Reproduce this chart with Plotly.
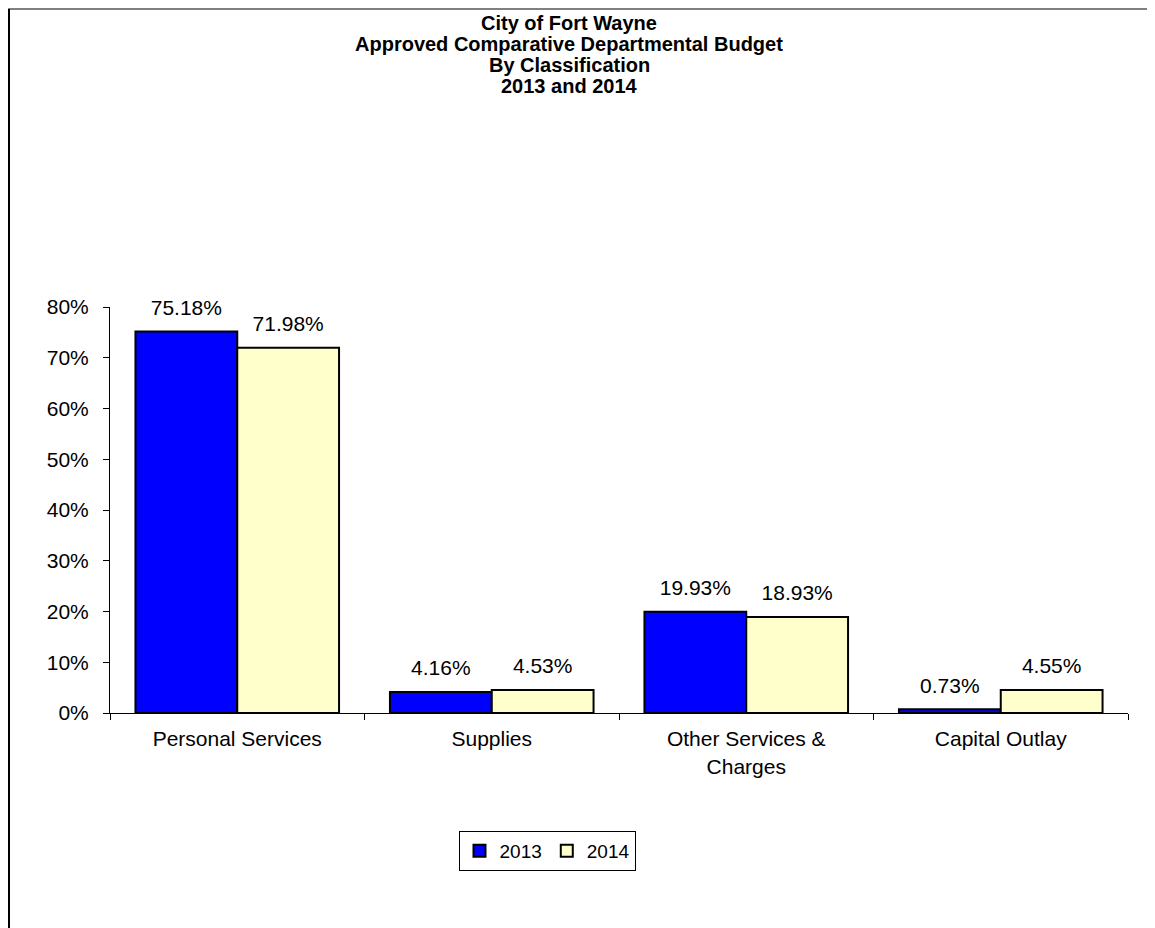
import plotly.graph_objects as go

categories = ["Personal Services", "Supplies", "Other Services &<br>Charges", "Capital Outlay"]
values_2013 = [0.7518, 0.0416, 0.1993, 0.0073]
values_2014 = [0.7198, 0.0453, 0.1893, 0.0455]
series_names = ["2013", "2014"]
tick_vals = [0, 0.1, 0.2, 0.3, 0.4, 0.5, 0.6, 0.7, 0.8]
title_lines = ["City of Fort Wayne", "Approved Comparative Departmental Budget",
               "By Classification", "2013 and 2014"]

FONT = "Arial, Liberation Sans, sans-serif"
W, H = 1155, 928
ML, MR, MT, MB = 102, 35, 299, 223
PW = W - ML - MR
PH = H - MT - MB
LABEL_GAP = 0.019  # extra space between bar end and its value label (style)


def px_x(px):
    return (px - ML) / PW


def px_y(py):
    return (H - MB - py) / PH


fig = go.Figure()
series = [(series_names[0], values_2013, "#0000FF", "g1"),
          (series_names[1], values_2014, "#FFFFCC", "g2")]
for name, vals, color, grp in series:
    fig.add_trace(go.Bar(
        x=categories, y=vals, name=name, offsetgroup=grp,
        marker=dict(color=color, line=dict(color="black", width=2)),
    ))
for name, vals, color, grp in series:
    fig.add_trace(go.Bar(
        x=categories, y=[LABEL_GAP] * len(vals), base=vals, offsetgroup=grp,
        text=[f"{v:.2%}" for v in vals], textposition="outside",
        textfont=dict(family=FONT, size=21, color="black"),
        marker=dict(color="rgba(0,0,0,0)", line=dict(width=0)),
        cliponaxis=False, constraintext="none", showlegend=False, hoverinfo="skip",
    ))

annotations = []
title_centers_px = [15, 36, 57, 78]
for line, cy in zip(title_lines, title_centers_px):
    annotations.append(dict(
        text=f"<b>{line}</b>", xref="paper", yref="paper",
        x=px_x(561), y=px_y(cy), xanchor="center", yanchor="middle",
        showarrow=False, font=dict(family=FONT, size=20, color="black"),
    ))

fig.update_layout(
    width=W, height=H,
    margin=dict(l=ML, r=MR, t=MT, b=MB, autoexpand=False),
    paper_bgcolor="white", plot_bgcolor="white",
    font=dict(family=FONT, size=21, color="black"),
    barmode="group", bargap=0.2, bargroupgap=0,
    showlegend=True,
    legend=dict(
        orientation="h", x=px_x(539), y=px_y(843), xanchor="center", yanchor="middle",
        bordercolor="black", borderwidth=1, bgcolor="white",
        font=dict(family=FONT, size=19, color="black"),
        itemwidth=30, traceorder="normal",
    ),
    xaxis=dict(
        showline=True, linecolor="black", linewidth=1,
        ticks="outside", ticklen=6, tickcolor="black", tickson="boundaries",
        showgrid=False, tickfont=dict(family=FONT, size=21, color="black"),
        ticklabelstandoff=7,
    ),
    yaxis=dict(
        range=[0, 0.8], tickvals=tick_vals, tickformat=".0%",
        showline=True, linecolor="black", linewidth=1,
        ticks="outside", ticklen=6, tickcolor="black",
        showgrid=False, zeroline=False,
        tickfont=dict(family=FONT, size=21, color="black"),
        ticklabelstandoff=10,
    ),
    annotations=annotations,
    shapes=[
        dict(type="line", xref="paper", yref="paper",
             x0=px_x(0), x1=px_x(1200), y0=px_y(1), y1=px_y(1),
             line=dict(color="#808080", width=2)),
        dict(type="line", xref="paper", yref="paper",
             x0=px_x(1), x1=px_x(1), y0=px_y(1), y1=px_y(1000),
             line=dict(color="black", width=2)),
    ],
)

fig.write_html("out.html")
